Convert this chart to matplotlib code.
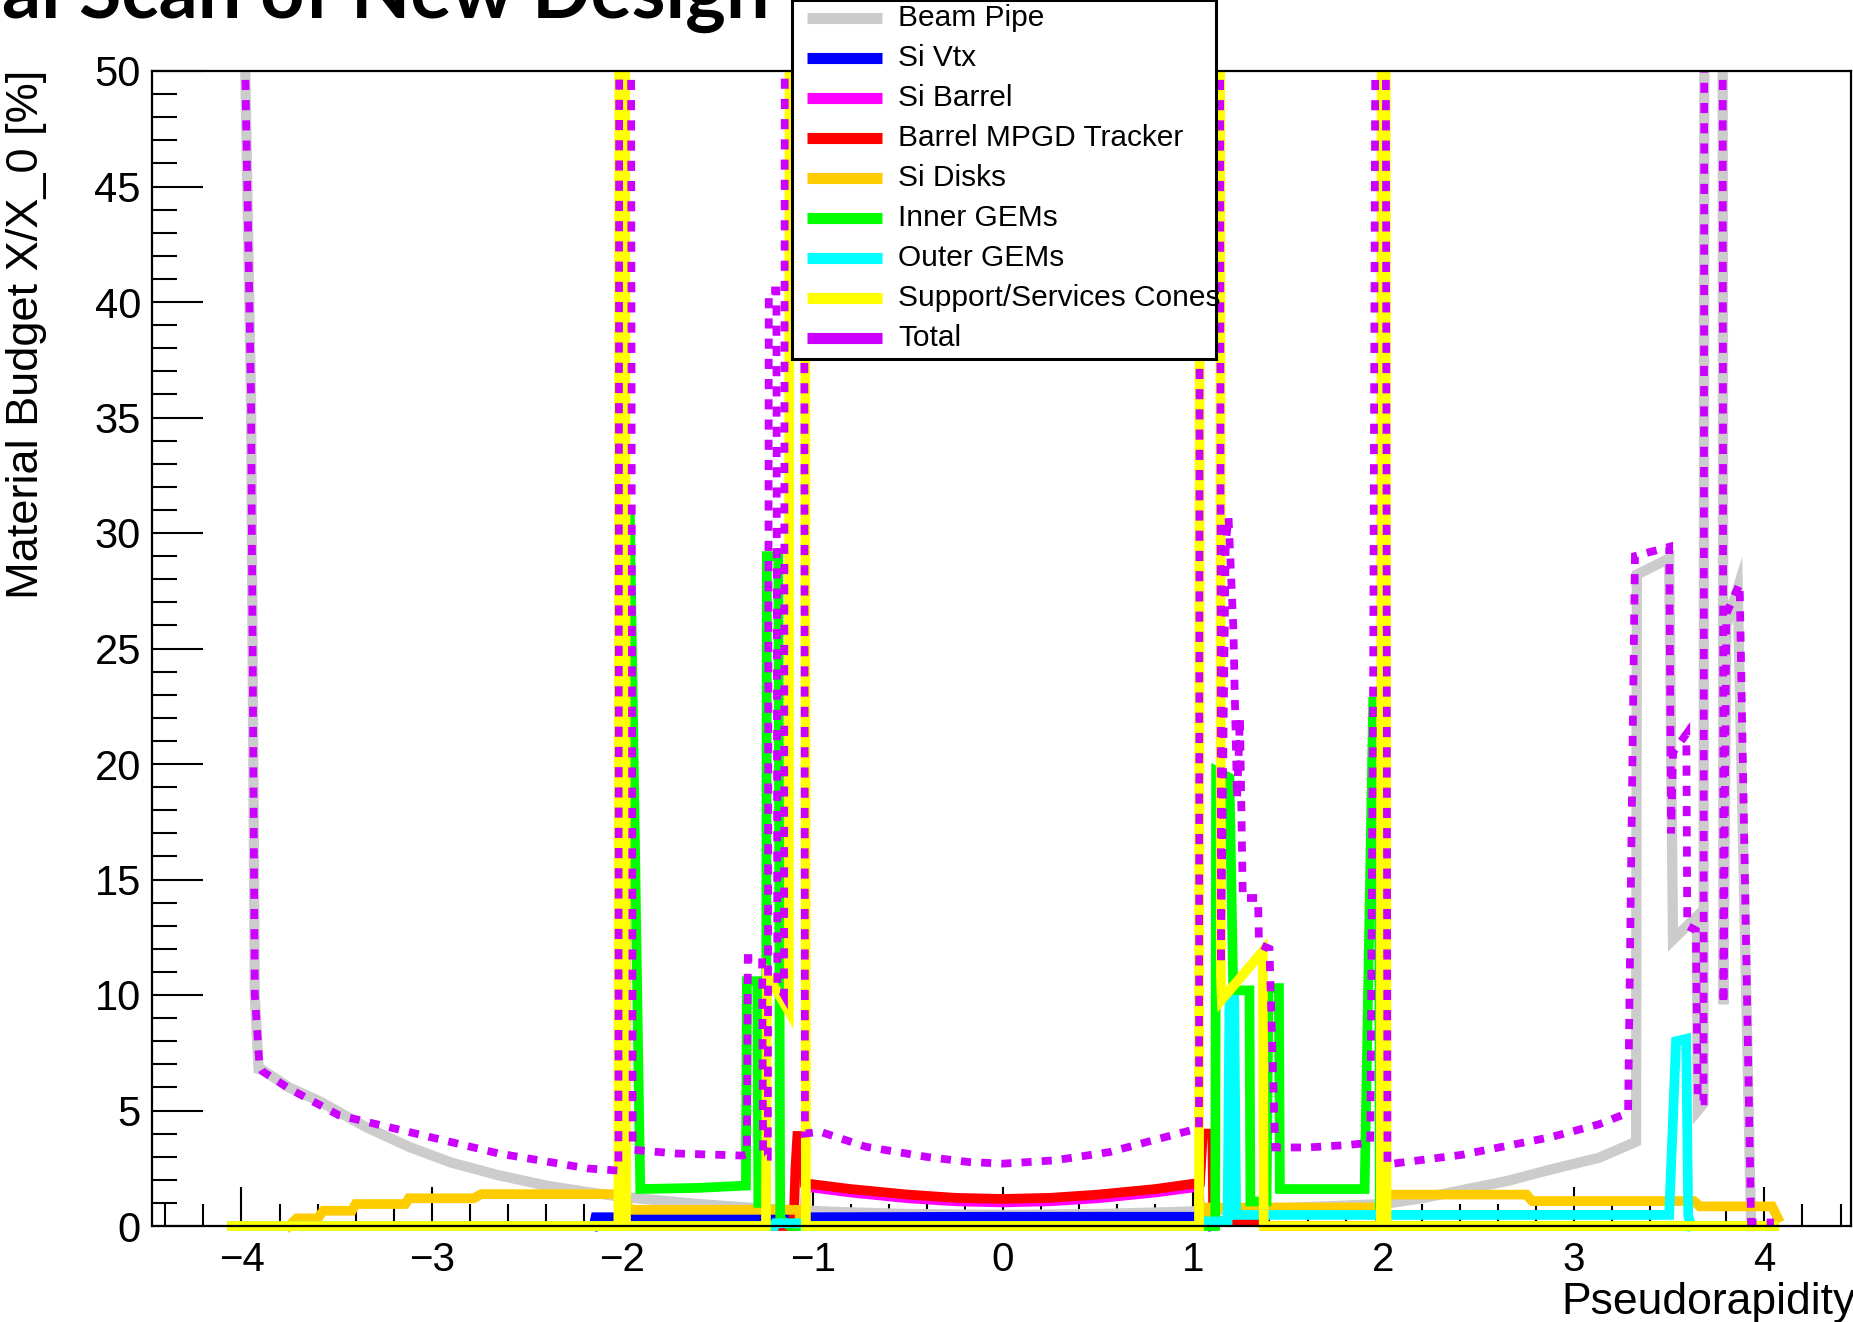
import matplotlib.pyplot as plt
import matplotlib.transforms as mtransforms
from matplotlib.patches import Rectangle
from matplotlib.ticker import MultipleLocator

# pseudorapidity / material budget [%] (60 = off scale)
eta_pipe = [-3.99, -3.98, -3.95, -3.93, -3.91, -3.888, -3.75, -3.585, -3.35, -3.118,
            -2.90, -2.651, -2.40, -2.184, -2.00, -1.60, -1.25, -0.88, -0.50, 0.00,
            0.50, 0.88, 1.25, 1.60, 2.00, 2.20, 2.41, 2.65, 2.88, 3.13,
            3.326, 3.33, 3.50, 3.52, 3.645, 3.65, 3.68, 3.685, 3.78, 3.785,
            3.80, 3.86, 3.93]
val_pipe = [60, 50, 35.8, 10, 6.8, 6.75, 6.0, 5.38, 4.3, 3.42,
            2.75, 2.2, 1.75, 1.47, 1.26, 0.95, 0.75, 0.61, 0.52, 0.48,
            0.52, 0.6, 0.72, 0.82, 0.95, 1.2, 1.55, 1.95, 2.45, 2.95,
            3.65, 28.2, 28.9, 12.4, 13.4, 5.0, 5.3, 60, 60, 9.6,
            26.0, 27.6, 0.0]

eta_vtx = [-2.15, -2.14, -1.0, 0.0, 1.0, 1.09, 1.10]
val_vtx = [0.0, 0.38, 0.38, 0.4, 0.4, 0.42, 0.0]

eta_sib = [-1.04, -1.035, -0.8, -0.5, -0.25, 0.0, 0.25, 0.5, 0.8, 1.03, 1.035]
val_sib = [0.0, 1.7, 1.45, 1.2, 1.07, 1.02, 1.07, 1.2, 1.45, 1.7, 0.0]

eta_mpgd = [-2.0, -1.10, -1.09, -1.08, -1.05, -1.04, -0.8, -0.5, -0.25, 0.0,
            0.25, 0.5, 0.8, 1.035, 1.05, 1.10, 1.105, 1.37, 1.375, 2.0]
val_mpgd = [0.0, 0.0, 2.5, 3.9, 3.9, 1.85, 1.6, 1.36, 1.22, 1.17,
            1.22, 1.36, 1.6, 1.87, 4.0, 4.0, 0.2, 0.2, 0.0, 0.0]

eta_disk = [-3.75, -3.71, -3.60, -3.57, -3.42, -3.40, -3.14, -3.12, -2.78, -2.74,
            -2.00, -1.96, -1.07, -1.065, 1.065, 1.07, 1.99, 2.00, 2.75, 2.78,
            3.63, 3.66, 4.04, 4.07]
val_disk = [0.0, 0.33, 0.33, 0.66, 0.66, 0.95, 0.95, 1.2, 1.2, 1.38,
            1.38, 0.7, 0.7, 0.0, 0.0, 0.8, 0.8, 1.36, 1.36, 1.08,
            1.08, 0.85, 0.85, 0.35]

eta_igem = [-4.05, -1.985, -1.975, -1.96, -1.905, -1.60, -1.35, -1.345, -1.29, -1.285,
            -1.245, -1.24, -1.18, -1.17, -1.12, 1.115, 1.12, 1.19, 1.21, 1.295,
            1.30, 1.385, 1.395, 1.45, 1.455, 1.90, 1.945, 1.975, 1.98, 4.05]
val_igem = [0, 0, 31, 31, 1.6, 1.65, 1.75, 10.6, 10.6, 1.0,
            1.0, 29, 29, 0.3, 0, 0, 19.7, 19.4, 10.2, 10.2,
            1.06, 1.06, 10.3, 10.3, 1.6, 1.6, 22.7, 22.7, 0, 0]

eta_ogem = [-4.05, -1.2, -1.195, -1.05, -1.045, 1.03, 1.035, 1.18, 1.19, 1.215,
            1.225, 3.50, 3.536, 3.589, 3.60, 3.615]
val_ogem = [0, 0, 0.12, 0.12, 0, 0, 0.2, 0.2, 9.8, 9.8,
            0.48, 0.48, 8.0, 8.1, 0.45, 0.0]

eta_supp = [-4.05, -2.02, -2.015, -1.985, -1.98, -1.245, -1.24, -1.125, -1.12, -1.04,
            -1.035, 1.03, 1.035, 1.14, 1.145, 1.15, 1.365, 1.37, 1.985, 1.99,
            2.01, 2.015, 4.05]
val_supp = [0, 0, 60, 60, 0, 0, 10.9, 9.3, 60, 60,
            0, 0, 60, 60, 10.8, 9.8, 11.9, 0, 0, 60,
            60, 0, 0]

eta_tot = [-3.99, -3.98, -3.95, -3.93, -3.905, -3.89, -3.75, -3.49, -3.12, -2.65,
           -2.18, -2.02, -2.015, -1.955, -1.945, -1.72, -1.37, -1.345, -1.34, -1.265,
           -1.26, -1.235, -1.23, -1.19, -1.185, -1.15, -1.145, -1.045, -1.04, -0.96,
           -0.72, -0.40, -0.18, 0.0, 0.27, 0.56, 0.83, 0.99, 1.03, 1.035,
           1.14, 1.145, 1.17, 1.185, 1.21, 1.23, 1.245, 1.26, 1.34, 1.345,
           1.40, 1.43, 1.60, 1.80, 1.93, 1.945, 1.96, 2.01, 2.02, 2.04,
           2.41, 2.88, 3.13, 3.284, 3.32, 3.50, 3.51, 3.52, 3.59, 3.595,
           3.64, 3.65, 3.68, 3.685, 3.78, 3.785, 3.80, 3.87, 3.93, 4.05]
val_tot = [60, 50, 36, 10, 6.9, 6.7, 5.95, 4.8, 4.07, 3.14,
           2.49, 2.4, 60, 60, 3.3, 3.14, 3.05, 3.1, 11.6, 11.6,
           3.0, 3.0, 40.5, 40.5, 10.5, 10.0, 60, 60, 4.0, 4.08,
           3.43, 2.99, 2.77, 2.70, 2.84, 3.2, 3.8, 4.15, 4.25, 60,
           60, 11.3, 29.5, 30.7, 26, 18.5, 22, 14.2, 14.2, 12.2,
           12.0, 3.4, 3.4, 3.5, 3.6, 24, 60, 60, 2.65, 2.69,
           3.08, 3.85, 4.4, 4.9, 29.0, 29.4, 17.0, 20.5, 21.3, 13.0,
           12.8, 5.4, 5.4, 60, 60, 9.6, 26.5, 27.8, 0.15, 0.15]

labels = ["Beam Pipe", "Si Vtx", "Si Barrel", "Barrel MPGD Tracker", "Si Disks",
          "Inner GEMs", "Outer GEMs", "Support/Services Cones", "Total"]
colors = ["#cccccc", "#0000ff", "#ff00ff", "#ff0000", "#ffcc00",
          "#00ff00", "#00ffff", "#ffff00", "#cc00ff"]

series = [(eta_pipe, val_pipe), (eta_vtx, val_vtx), (eta_sib, val_sib),
          (eta_mpgd, val_mpgd), (eta_disk, val_disk), (eta_igem, val_igem),
          (eta_ogem, val_ogem), (eta_supp, val_supp), (eta_tot, val_tot)]

W, H = 1853, 1322
plt.rcParams['font.family'] = ['Liberation Sans', 'DejaVu Sans']
fig = plt.figure(figsize=(W / 100, H / 100), dpi=100)

# frame in pixels: left 152, right 1851, top 71, bottom 1226
ax = fig.add_axes([152 / W, 1 - 1226 / H, (1851 - 152) / W, (1226 - 71) / H])
ax.set_xlim(-4.47, 4.455)
ax.set_ylim(0, 50)

# lines may spill a little under the x axis, but are cut at the top of the frame
clip = mtransforms.TransformedBbox(mtransforms.Bbox([[-4.47, -1.0], [4.455, 50]]), ax.transData)

for i, (x, y) in enumerate(series):
    if labels[i] == "Total":
        ln, = ax.plot(x, y, color=colors[i], lw=5.6, linestyle=(0, (1.3, 1.3)),
                      dash_capstyle='butt', dash_joinstyle='miter')
    elif labels[i] == "Beam Pipe":
        ln, = ax.plot(x, y, color=colors[i], lw=7.4, solid_joinstyle='miter')
    else:
        ln, = ax.plot(x, y, color=colors[i], lw=7.0, solid_joinstyle='miter')
    ln.set_clip_box(clip)

for side in ['left', 'right', 'top', 'bottom']:
    ax.spines[side].set_linewidth(1.6)

ax.xaxis.set_major_locator(MultipleLocator(1))
ax.xaxis.set_minor_locator(MultipleLocator(0.2))
ax.yaxis.set_major_locator(MultipleLocator(5))
ax.yaxis.set_minor_locator(MultipleLocator(1))
ax.tick_params(axis='x', which='major', direction='in', length=28, width=1.5,
               labelsize=29, pad=11, top=False)
ax.tick_params(axis='x', which='minor', direction='in', length=16, width=1.5, top=False)
ax.tick_params(axis='y', which='major', direction='in', length=37, width=1.5,
               labelsize=30, pad=8, right=False)
ax.tick_params(axis='y', which='minor', direction='in', length=18, width=1.5, right=False)

# axis titles (ROOT style positions)
fig.text(1856 / W, 1 - 1314 / H, "Pseudorapidity", ha='right', va='baseline', fontsize=32)
fig.text(27 / W, 1 - 70 / H, "Material Budget X/X_0 [%]", rotation=90,
         ha='center', va='top', fontsize=32.5)

# slide title, cut off at the top edge
title = fig.text(2 / W, 1 - 18 / H, "al Scan of New Design", ha='left', va='baseline',
                 fontsize=50, fontweight='bold', family=['Lato', 'DejaVu Sans'])
r = fig.canvas.get_renderer()
tw = title.get_window_extent(renderer=r).width
title.set_fontsize(50 * 769 / tw)

# legend box drawn in pixel coordinates
ov = fig.add_axes([0, 0, 1, 1], zorder=5)
ov.set_xlim(0, W)
ov.set_ylim(H, 0)
ov.axis('off')
ov.add_patch(Rectangle((792, -0.5), 1216 - 792, 359.5, facecolor='white',
                       edgecolor='black', lw=2.2))
for i, lab in enumerate(labels):
    yy = 18 + 40 * i
    ov.plot([807, 882], [yy, yy], color=colors[i], lw=8, solid_capstyle='butt')
    ov.text(898, yy, lab, va='center', ha='left', fontsize=21.5)

fig.savefig("out.png", dpi=100)
